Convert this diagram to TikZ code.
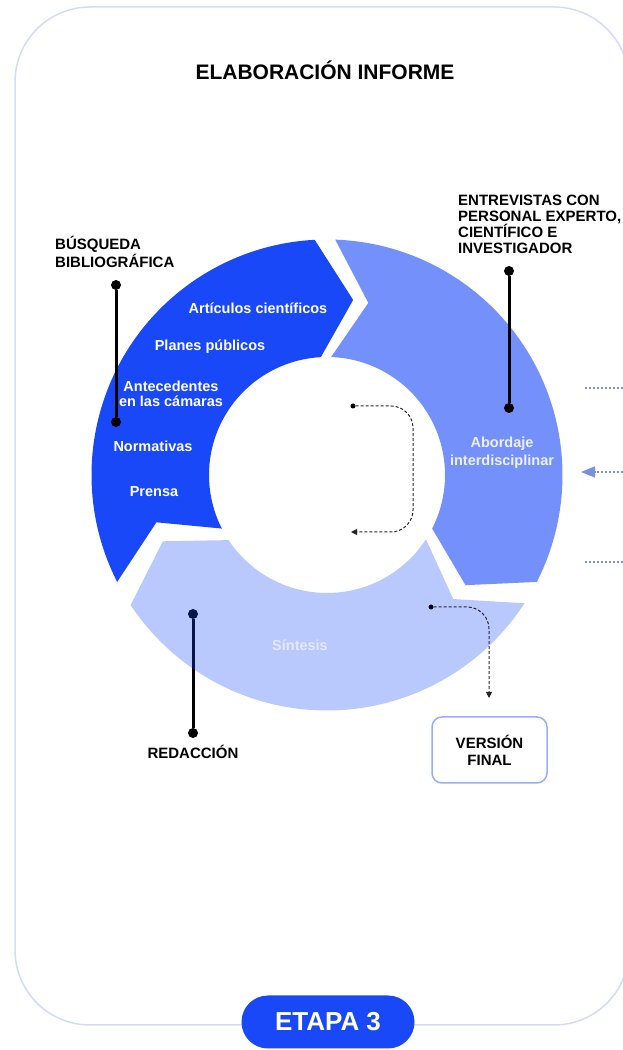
\documentclass[tikz,border=0pt]{standalone}
\usepackage{fontspec}
\setmainfont{Liberation Sans}
\usetikzlibrary{arrows.meta, calc, positioning}
\definecolor{stageblue}{RGB}{24,72,248}
\definecolor{framelilac}{RGB}{212,219,245}
\definecolor{dotblue}{RGB}{122,142,226}

\begin{document}
\begin{tikzpicture}[x=1pt, y=1pt,
    pindot/.style={circle, fill=black, inner sep=0pt, minimum size=10pt},
    pinline/.style={line width=3pt},
    pinlabel/.style={font={\fontsize{15}{16}\selectfont\bfseries}, inner sep=0pt},
    seglabel/.style={font={\fontsize{14.5}{14.5}\selectfont\bfseries}, text=white, inner sep=0pt, align=center},
    flowdot/.style={circle, fill=black, inner sep=0pt, minimum size=5pt},
    flowdash/.style={black!85, line width=1pt, dash pattern=on 3pt off 2pt, rounded corners=22pt, -{Triangle[length=6pt, width=6pt]}},
    sidedash/.style={dotblue, line width=1.2pt, dash pattern=on 2pt off 2pt}]
    \useasboundingbox (0,0) rectangle (623,1050);

    % Frame
    \draw[framelilac, line width=1.5pt, rounded corners=75pt] (15,25) rectangle (629,1043);

    % Title
    \node[font={\fontsize{21}{23}\selectfont\bfseries}] (title) at (325,980) {ELABORACIÓN INFORME};

    % Redaccion pin (runs under the light segment)
    \node[pindot] (redtop) at (193,436) {};
    \node[pindot] (redbot) at (193,317) {};
    \draw[pinline] (redtop) -- (redbot);
    \node[pinlabel] (redlabel) at (193,298) {REDACCIÓN};

    % Ring segments
    \begin{scope}[shift={(327,575)}]
        \fill[stageblue] (207:235.5) arc[start angle=207, end angle=93, radius=235.5] -- (81.5:177)
            -- (93:118) arc[start angle=93, end angle=207, radius=118] -- (195.5:177) -- cycle;
        \fill[stageblue!60] (88:235.5) arc[start angle=88, end angle=-27, radius=235.5] -- (-38.5:177)
            -- (-27:118) arc[start angle=-27, end angle=88, radius=118] -- (76.5:177) -- cycle;
        \fill[stageblue, fill opacity=0.3] (-33:235.5) arc[start angle=-33, end angle=-146.5, radius=235.5] -- (-158:177)
            -- (-146.5:118) arc[start angle=-146.5, end angle=-33, radius=118] -- (-44.5:177) -- cycle;
    \end{scope}

    % Sources
    \node[seglabel] (articulos) at (258,742) {Artículos científicos};
    \node[seglabel] (planes) at (210,703) {Planes públicos};
    \node[seglabel] (antecedentes) at (171,656) {Antecedentes\\en las cámaras};
    \node[seglabel] (normativas) at (153,604) {Normativas};
    \node[seglabel] (prensa) at (154,558) {Prensa};
    \node[seglabel, text=white!92!stageblue, font={\fontsize{14.5}{18}\selectfont\bfseries}] (abordaje) at (502,597.5) {Abordaje\\interdisciplinar};
    \node[seglabel, text=white!88!stageblue] (sintesis) at (300,405) {Síntesis};

    % Busqueda pin
    \node[pindot] (busqtop) at (116,765) {};
    \node[pindot] (busqbot) at (116,628) {};
    \draw[pinline] (busqtop) -- (busqbot);
    \node[pinlabel, anchor=west, align=left] (busqlabel) at (55,798) {BÚSQUEDA\\BIBLIOGRÁFICA};

    % Entrevistas pin
    \node[pindot] (entrevtop) at (509,779) {};
    \node[pindot] (entrevbot) at (509,642) {};
    \draw[pinline] (entrevtop) -- (entrevbot);
    \node[pinlabel, anchor=west, align=left] (entrevlabel) at (458,825.5) {ENTREVISTAS CON\\PERSONAL EXPERTO,\\CIENTÍFICO E\\INVESTIGADOR};

    % Loop inside the ring
    \node[flowdot] (cycdot) at (353,644) {};
    \coordinate (cycside) at (413,518);
    \coordinate (cycend) at (351,518);
    \draw[flowdash] (cycdot) -| (cycside) -- (cycend);

    % Final version
    \node[pinlabel, draw=stageblue!45, line width=1.5pt, rounded corners=10pt, minimum width=115pt, minimum height=66pt, align=center,
        font={\fontsize{15}{17}\selectfont\bfseries}] (final) at (489.5,300) {VERSIÓN\\FINAL};
    \node[flowdot] (sintdot) at (431,443) {};
    \coordinate (finend) at (489,352);
    \draw[flowdash] (sintdot) -| (finend);

    % Inputs from the right
    \coordinate (sideAin) at (585,662);
    \coordinate (sideAout) at (623,662);
    \coordinate (sideBin) at (581,578);
    \coordinate (sideBout) at (623,578);
    \coordinate (sideCin) at (585,488);
    \coordinate (sideCout) at (623,488);
    \draw[sidedash] (sideAout) -- (sideAin);
    \draw[sidedash, -{Triangle[length=14pt, width=11pt]}] (sideBout) -- (sideBin);
    \draw[sidedash] (sideCout) -- (sideCin);

    % Stage
    \node[fill=stageblue, rounded corners=26.5pt, minimum width=173pt, minimum height=53pt, text=white,
        font={\fontsize{26}{28}\selectfont\bfseries}] (etapa) at (328,28) {ETAPA 3};
\end{tikzpicture}
\end{document}
